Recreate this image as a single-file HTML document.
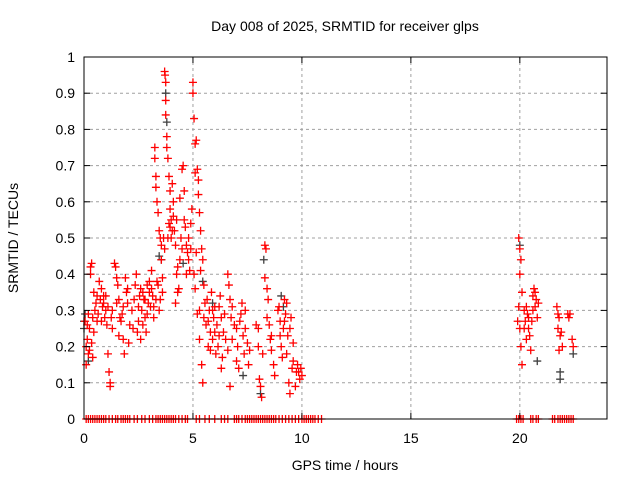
<!DOCTYPE html>
<html><head><meta charset="utf-8"><style>
body{margin:0;background:#fff;}
svg{display:block;font-family:"Liberation Sans",sans-serif;}
</style></head><body>
<svg id="chart" width="640" height="480" viewBox="0 0 640 480">
<rect width="640" height="480" fill="#fff"/>
<g id="grid"></g>
<g id="black"></g>
<g id="red"></g>
<rect x="84" y="57" width="523" height="362" fill="none" stroke="#000" stroke-width="1"/>
<g id="ticks"></g>
<text x="345" y="31" font-size="14" text-anchor="middle">Day 008 of 2025, SRMTID for receiver glps</text>
<text x="345" y="470" font-size="14" text-anchor="middle">GPS time / hours</text>
<text transform="translate(18,238) rotate(-90)" font-size="14" text-anchor="middle">SRMTID / TECUs</text>
</svg>
<script>
const xTicks=[0,5,10,15,20];
const yTicks=[0,0.1,0.2,0.3,0.4,0.5,0.6,0.7,0.8,0.9,1];
const yTickLabels=["0","0.1","0.2","0.3","0.4","0.5","0.6","0.7","0.8","0.9","1"];
const redSeries=[[0.05,0.27],[0.1,0.2],[0.1,0.15],[0.15,0.22],[0.2,0.18],[0.25,0.25],[0.3,0.42],[0.35,0.43],[0.3,0.4],[0.4,0.17],[0.45,0.35],[0.5,0.3],[0.2,0.29],[0.35,0.21],[0.45,0.24],[0.55,0.32],[0.6,0.27],
[0.7,0.38],[0.75,0.33],[0.8,0.36],[0.85,0.31],[0.9,0.34],[1.0,0.3],[1.05,0.26],[1.1,0.18],[1.15,0.13],[1.2,0.1],[1.2,0.09],[1.25,0.28],[1.3,0.3],[1.0,0.34],[0.95,0.28],
[1.4,0.43],[1.45,0.42],[1.5,0.39],[1.55,0.37],[1.6,0.33],[1.6,0.23],[1.7,0.27],[1.75,0.29],[1.8,0.22],[1.85,0.18],[1.9,0.39],[1.95,0.35],[2.0,0.32],[2.05,0.21],[2.1,0.26],
[2.3,0.33],[2.35,0.37],[2.4,0.4],[2.45,0.24],[2.5,0.27],[2.55,0.34],[2.6,0.22],[2.65,0.3],[2.7,0.35],[2.75,0.33],[2.8,0.28],[2.85,0.24],[2.9,0.37],[2.95,0.32],[3.0,0.35],[3.0,0.38],
[3.05,0.31],[3.1,0.41],[3.15,0.34],[3.2,0.31],[3.25,0.75],[3.25,0.72],[3.3,0.67],[3.3,0.64],[3.35,0.6],[3.4,0.57],[3.45,0.52],[3.5,0.5],[3.55,0.48],[3.55,0.44],[3.6,0.39],[3.4,0.37],[3.45,0.3],[3.5,0.33],
[3.7,0.96],[3.72,0.95],[3.75,0.93],[3.75,0.88],[3.75,0.84],[3.8,0.78],[3.8,0.75],[3.85,0.72],[3.9,0.67],[3.95,0.63],[3.95,0.58],[3.9,0.54],[3.85,0.5],[4.0,0.55],[4.05,0.65],[4.1,0.6],[4.15,0.52],[4.2,0.48],[4.25,0.55],[4.2,0.32],[4.3,0.42],[4.35,0.36],[4.4,0.61],[4.4,0.44],[4.45,0.5],[4.5,0.69],[4.55,0.7],[4.6,0.63],[4.65,0.53],[4.7,0.48],[4.75,0.46],[4.8,0.44],[4.85,0.41],[4.9,0.54],[4.95,0.58],
[5.0,0.93],[5.0,0.9],[5.05,0.83],[5.1,0.76],[5.15,0.77],[5.2,0.69],[5.25,0.66],[5.25,0.62],[5.3,0.57],[5.35,0.52],[5.4,0.47],[5.45,0.44],[5.15,0.46],[5.05,0.4],[5.1,0.36],[5.2,0.29],[5.3,0.22],[5.4,0.15],[5.45,0.1],[5.5,0.37],
[5.6,0.26],[5.65,0.33],[5.7,0.2],[5.75,0.3],[5.8,0.24],[5.85,0.35],[5.9,0.22],[5.95,0.28],[6.0,0.31],[6.05,0.18],[6.1,0.26],[6.15,0.2],[6.2,0.23],[6.25,0.34],[6.3,0.14],[6.35,0.17],[6.4,0.24],[6.45,0.29],
[6.6,0.4],[6.65,0.37],[6.7,0.33],[6.75,0.28],[6.6,0.19],[6.7,0.09],[6.8,0.22],[6.9,0.26],[7.0,0.16],[7.05,0.2],[7.1,0.14],[7.2,0.29],[7.25,0.32],[7.3,0.23],[7.35,0.18],[7.4,0.25],[7.5,0.21],[7.55,0.15],
[7.9,0.26],[8.0,0.25],[8.05,0.11],[8.1,0.09],[8.15,0.06],[8.2,0.18],[8.3,0.48],[8.35,0.47],[8.3,0.39],[8.4,0.36],[8.45,0.33],[8.5,0.26],[8.55,0.22],[8.6,0.19],[8.7,0.15],[8.75,0.12],
[8.9,0.3],[8.95,0.31],[9.0,0.27],[9.05,0.2],[9.1,0.17],[9.15,0.25],[9.2,0.33],[9.25,0.29],[9.3,0.32],[9.35,0.23],[9.4,0.1],[9.45,0.07],[9.5,0.28],[9.55,0.14],[9.6,0.16],[9.7,0.09],[9.8,0.15],[9.85,0.13],[9.9,0.11],[9.95,0.14],[10.0,0.12],
[19.95,0.5],[20.0,0.47],[20.05,0.44],[20.0,0.4],[20.1,0.35],[19.95,0.31],[19.9,0.27],[20.0,0.25],[20.05,0.2],[20.1,0.15],[20.2,0.3],[20.25,0.27],[20.3,0.22],[20.35,0.29],[20.4,0.25],[20.5,0.19],[20.6,0.34],[20.65,0.36],[20.7,0.31],[20.75,0.33],[20.8,0.28],[20.55,0.27],[20.45,0.23],
[21.7,0.31],[21.75,0.29],[21.8,0.28],[21.85,0.23],[21.9,0.24],[21.95,0.2],[21.8,0.19],[22.2,0.29],[22.25,0.28],[22.4,0.22],[22.45,0.2]];
const redExtra=[[0.15,0.26],[0.25,0.19],[0.4,0.28],[0.6,0.34],[0.65,0.29],[0.8,0.27],[0.9,0.32],[1.1,0.31],[1.3,0.25],[1.5,0.32],[1.65,0.28],[1.8,0.31],[2.0,0.36],[2.2,0.3],[2.25,0.25],[2.5,0.31],[2.6,0.36],[2.7,0.26],[2.8,0.33],[2.9,0.29],[3.1,0.36],[3.2,0.28],[3.3,0.33],[3.35,0.38],[3.6,0.35],[3.65,0.5],[3.7,0.47],[3.95,0.53],[4.0,0.5],[4.05,0.52],[4.1,0.56],[4.25,0.4],[4.3,0.35],[4.5,0.47],[4.6,0.55],[4.7,0.4],[4.8,0.5],[4.9,0.47],[5.1,0.68],[5.3,0.3],[5.35,0.41],[5.5,0.28],[5.55,0.32],[5.7,0.27],[5.8,0.19],[5.9,0.3],[6.0,0.24],[6.2,0.31],[6.3,0.28],[6.5,0.22],[6.8,0.31],[7.0,0.25],[7.15,0.27],[7.4,0.3],[7.6,0.19],[8.0,0.2],[8.4,0.28],[8.6,0.23],[9.0,0.23],[9.2,0.27],[9.3,0.18],[9.45,0.25],[9.6,0.21],[9.75,0.13],[20.2,0.25],[20.3,0.31],[20.4,0.28],[20.6,0.3],[20.7,0.35],[20.85,0.32],[21.75,0.25],[22.3,0.29]];
const blackSeries=[[0,0.27],[0,0.25],[0.2,0.16],[3.45,0.45],[3.55,0.44],[3.8,0.82],[3.75,0.9],[4.55,0.43],[5.45,0.38],[8.1,0.07],[8.25,0.44],[9.05,0.34],[9.15,0.31],[20.8,0.16],[21.85,0.13],[21.85,0.11],[22.45,0.18],[20.0,0.48],[0.05,0.29],[5.9,0.32],[7.3,0.12]];
const zeroTimes=[0.1,0.2,0.3,0.4,0.5,0.6,0.7,0.8,0.9,1.0,1.15,1.3,1.45,1.55,1.7,1.8,1.9,2.0,2.1,2.3,2.45,2.65,2.8,3.0,3.15,3.3,3.4,3.5,3.6,3.7,3.8,3.9,4.0,4.1,4.2,4.35,4.5,4.65,4.75,5.15,5.3,5.55,5.75,6.0,6.3,6.45,6.6,6.9,7.0,7.1,7.25,7.4,7.5,7.6,7.7,7.8,7.9,8.0,8.1,8.2,8.3,8.4,8.5,8.6,8.7,8.8,8.95,9.1,9.25,9.4,9.55,9.7,9.85,10.0,10.1,10.2,10.3,10.4,10.5,10.6,10.75,10.9,19.85,19.95,20.05,20.15,20.5,20.6,20.75,20.85,21.5,21.6,21.75,21.85,21.95,22.05,22.15,22.25,22.35,22.45];
const NS="http://www.w3.org/2000/svg";
const X0=84,X1=607,Y0=419,Y1=57;
function sx(t){return X0+(t-0)/(24-0)*(X1-X0);}
function sy(v){return Y0-(v-0)/(1-0)*(Y0-Y1);}
function mk(tag,attrs,parent){const e=document.createElementNS(NS,tag);for(const k in attrs)e.setAttribute(k,attrs[k]);parent.appendChild(e);return e;}
const grid=document.getElementById('grid'),ticks=document.getElementById('ticks');
yTicks.forEach((v,i)=>{
 const y=sy(v);
 if(v>0&&v<1){const g=mk('line',{x1:X0,x2:X1,y1:y,y2:y,stroke:'#a0a0a0','stroke-dasharray':'3,3'},grid);
 
 }
 mk('line',{x1:X0,x2:X0+6,y1:y,y2:y,stroke:'#000'},ticks);
 mk('line',{x1:X1,x2:X1-6,y1:y,y2:y,stroke:'#000'},ticks);
 const t=mk('text',{x:X0-9,y:y+5,'font-size':'14','text-anchor':'end'},ticks);
 
 
 t.textContent=yTickLabels[i];
});
xTicks.forEach(v=>{
 const x=sx(v);
 if(v>0){const g=mk('line',{x1:x,x2:x,y1:Y0,y2:Y1,stroke:'#a0a0a0','stroke-dasharray':'3,3'},grid);
 
 }
 mk('line',{x1:x,x2:x,y1:Y0,y2:Y0-6,stroke:'#000'},ticks);
 mk('line',{x1:x,x2:x,y1:Y1,y2:Y1+6,stroke:'#000'},ticks);
 const t=mk('text',{x:x,y:443,'font-size':'14','text-anchor':'middle'},ticks);
 
 
 t.textContent=String(v);
});
function plus(g,t,v,color){
 const x=sx(t),y=sy(v);
 const p=mk('path',{d:`M${x-4},${y}H${x+4}M${x},${y-4}V${y+4}`,stroke:color,'stroke-width':'1.3',fill:'none'},g);
 
 
}
const gb=document.getElementById('black'),gr=document.getElementById('red');
blackSeries.forEach(d=>plus(gb,d[0],d[1],'#404040'));
redSeries.forEach(d=>plus(gr,d[0],d[1],'#ff0000'));
redExtra.forEach(d=>plus(gr,d[0],d[1],'#ff0000'));
zeroTimes.forEach(t=>plus(gr,t,0,'#ff0000'));
</script>
</body></html>
